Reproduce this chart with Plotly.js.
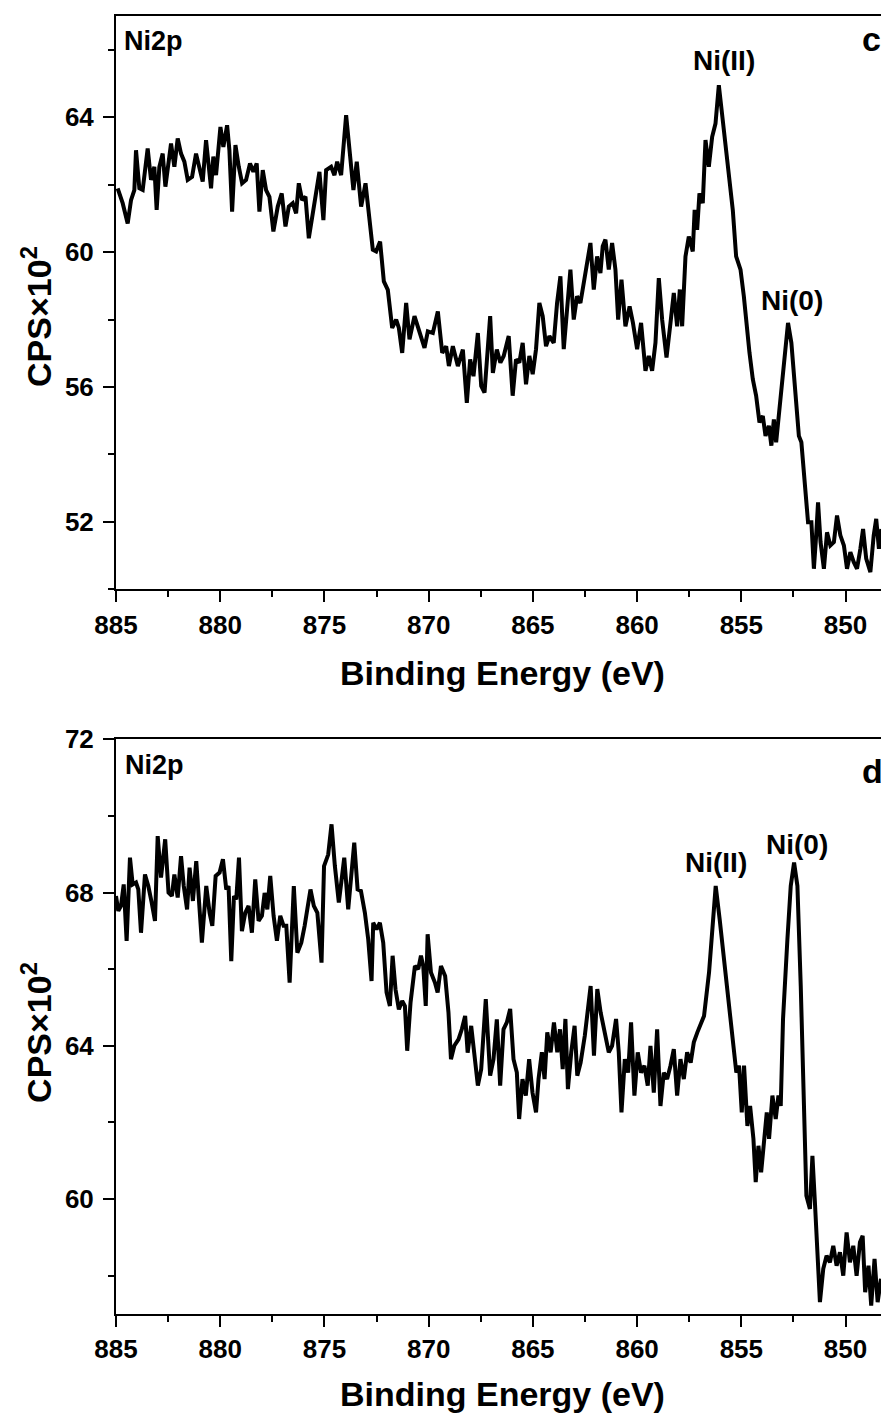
<!DOCTYPE html>
<html>
<head>
<meta charset="utf-8">
<script src="https://cdn.plot.ly/plotly-3.0.1.min.js"></script>
<style>html,body{margin:0;padding:0;background:#fff;}#chart{width:881px;height:1414px;}</style>
</head>
<body>
<div id="chart"></div>
<script>
// ---- Panel c (top): Binding energy (eV) and CPS x10^2 ----
const energyC = [
  884.92, 884.68, 884.44, 884.28, 884.12, 884.04, 883.88, 883.72, 883.48, 883.32,
  883.16, 883.05, 882.92, 882.76, 882.63, 882.47, 882.36, 882.2, 882.04, 881.88,
  881.72, 881.56, 881.35, 881.16, 881.0, 880.84, 880.68, 880.55, 880.44, 880.33,
  880.2, 879.99, 879.85, 879.67, 879.56, 879.43, 879.27, 879.11, 878.95, 878.76,
  878.57, 878.41, 878.25, 878.12, 877.96, 877.8, 877.64, 877.45, 877.24, 877.05,
  876.87, 876.71, 876.52, 876.36, 876.23, 876.07, 875.91, 875.75, 875.56, 875.4,
  875.24, 875.05, 874.92, 874.68, 874.52, 874.39, 874.2, 873.96, 873.8, 873.61,
  873.45, 873.24, 873.03, 872.84, 872.68, 872.52, 872.33, 872.15, 871.96, 871.75,
  871.56, 871.43, 871.27, 871.08, 870.92, 870.68, 870.44, 870.2, 870.04, 869.8,
  869.56, 869.35, 869.16, 869.03, 868.84, 868.6, 868.36, 868.17, 868.01, 867.85,
  867.64, 867.48, 867.32, 867.16, 867.05, 866.92, 866.73,
  866.56, 866.4, 866.16, 865.97, 865.81, 865.65, 865.49, 865.33, 865.17, 865.01,
  864.85, 864.69, 864.53, 864.37, 864.21, 864.0, 863.84, 863.68, 863.52, 863.36,
  863.2, 863.04, 862.88, 862.72, 862.56, 862.4, 862.24, 862.08, 861.92, 861.76,
  861.65, 861.52, 861.36, 861.2, 861.04, 860.91, 860.75, 860.56, 860.36, 860.2,
  860.0, 859.81, 859.6, 859.44, 859.28, 859.12, 858.96, 858.8, 858.59, 858.4,
  858.24, 858.08, 857.95, 857.84, 857.68, 857.52, 857.33, 857.24, 857.12, 857.01,
  856.85, 856.72, 856.56, 856.4, 856.24, 856.08, 855.92, 855.76, 855.6, 855.41,
  855.25, 855.04, 854.88, 854.77, 854.61, 854.45, 854.29, 854.13, 853.97, 853.84,
  853.68, 853.56, 853.44, 853.33, 853.2, 853.08, 852.92, 852.76, 852.6, 852.4,
  852.24, 852.12, 851.96, 851.8, 851.64, 851.52, 851.41, 851.32, 851.2, 851.04,
  850.89, 850.73, 850.56, 850.41, 850.25, 850.08, 849.93, 849.77, 849.61, 849.45,
  849.29, 849.16, 849.01, 848.81, 848.65, 848.53, 848.4, 848.28
];
const cpsC = [
  61.89, 61.45, 60.85, 61.54, 61.84, 63.02, 61.89, 61.84, 63.07, 62.14,
  62.53, 61.25, 62.53, 62.92, 61.94, 62.63, 63.22, 62.53, 63.37, 62.92,
  62.68, 62.14, 62.23, 62.92, 62.53, 62.09, 63.32, 62.53, 61.89, 62.83,
  62.28, 63.71, 63.12, 63.76, 63.02, 61.2, 63.17, 62.53, 62.04, 62.14,
  62.63, 62.38, 62.63, 61.2, 62.43, 61.84, 61.64, 60.61, 61.35, 61.74,
  60.76, 61.35, 61.45, 61.15, 62.04, 61.54, 61.64, 60.41, 61.15, 61.64,
  62.38, 60.95, 62.43, 62.53, 62.28, 62.68, 62.28, 64.06, 63.12, 61.84,
  62.68, 61.35, 62.04, 60.95, 60.07, 60.02, 60.31, 59.13, 58.88, 57.75,
  58.0, 57.75, 57.01, 58.49, 57.41, 58.1, 57.6, 57.16, 57.65, 57.6,
  58.24, 57.01, 57.21, 56.62, 57.21, 56.62, 57.11, 55.53, 56.82, 56.32,
  57.6, 56.03, 55.83, 57.11, 58.1, 56.42, 57.11,
  56.72, 56.92, 57.51, 55.74, 56.82, 56.72, 57.31, 56.08, 56.92, 56.38,
  57.12, 58.49, 58.1, 57.21, 57.51, 57.31, 58.49, 59.28, 57.12, 58.49,
  59.48, 58.0, 58.69, 58.49, 59.08, 59.68, 60.27, 58.89, 59.87, 59.38,
  60.17, 60.37, 59.48, 60.27, 59.48, 58.0, 59.18, 57.8, 58.39, 57.9,
  57.12, 57.9, 56.48, 56.92, 56.48, 57.31, 59.23, 58.0, 56.87, 57.9,
  58.79, 57.8, 58.89, 57.8, 59.87, 60.46, 60.02, 61.25, 60.66, 61.74,
  61.45, 63.32, 62.53, 63.42, 63.81, 64.95, 64.11, 63.03, 62.43, 61.25,
  59.87, 59.48, 58.69, 57.9, 57.02, 56.23, 55.74, 54.95, 55.14, 54.55,
  54.85, 54.26, 55.04, 54.36, 55.24, 55.93, 57.02, 57.9, 57.31, 55.93,
  54.55, 54.36, 53.07, 51.99, 51.99, 50.61, 51.6, 52.58, 51.4, 50.61,
  51.69, 51.3, 51.4, 52.19, 51.6, 51.3, 50.61, 51.1, 50.81, 50.61,
  51.2, 51.79, 50.91, 50.51, 51.6, 52.09, 51.2, 51.79
];

// ---- Panel d (bottom) ----
const energyD = [
  885.0, 884.89, 884.76, 884.63, 884.49, 884.33, 884.2, 884.04, 883.93, 883.8,
  883.61, 883.45, 883.29, 883.13, 883.0, 882.84, 882.64, 882.48, 882.32, 882.2,
  882.04, 881.88, 881.75, 881.59, 881.47, 881.31, 881.15, 881.03, 880.88, 880.67,
  880.51, 880.38, 880.22, 880.03, 879.87, 879.71, 879.6, 879.47, 879.34, 879.23,
  879.1, 878.96, 878.8, 878.64, 878.48, 878.32, 878.16, 878.0, 877.87, 877.74,
  877.6, 877.44, 877.28, 877.12, 876.96, 876.83, 876.67, 876.47, 876.3, 876.11,
  875.95, 875.67, 875.51, 875.34, 875.14, 875.02, 874.82, 874.66, 874.5, 874.31,
  874.05, 873.86, 873.73, 873.57, 873.41, 873.25, 873.06, 872.9, 872.74, 872.66,
  872.5, 872.34, 872.18, 872.02, 871.86, 871.73, 871.59, 871.43, 871.27, 871.14,
  871.03, 870.87, 870.66, 870.5, 870.37, 870.26, 870.14, 870.05, 869.89, 869.7,
  869.57, 869.41, 869.21, 869.05, 868.93, 868.77, 868.57, 868.41, 868.25, 868.13,
  867.96, 867.8, 867.64, 867.48, 867.26, 867.05, 866.89, 866.73, 866.57, 866.41,
  866.25, 866.09, 865.93, 865.77, 865.66, 865.5, 865.34, 865.18, 865.02, 864.85,
  864.73, 864.57, 864.44, 864.31, 864.15, 863.99, 863.83, 863.7, 863.57, 863.44,
  863.32, 863.16, 863.0, 862.87, 862.71, 862.51, 862.35, 862.23, 862.07, 861.91,
  861.75, 861.59, 861.36, 861.2, 861.01, 860.88, 860.75, 860.59, 860.43, 860.29,
  860.13, 859.97, 859.81, 859.65, 859.49, 859.36, 859.2, 859.04, 858.88, 858.72,
  858.56, 858.4, 858.24, 858.08, 857.92, 857.76, 857.6, 857.43, 857.28, 857.11,
  856.79, 856.55, 856.39, 856.23, 856.04, 855.83, 855.59, 855.4, 855.24, 855.11,
  854.98, 854.87, 854.71, 854.58, 854.42, 854.31, 854.18, 854.05, 853.91, 853.78,
  853.67, 853.51, 853.35, 853.22, 853.11, 853.0, 852.79, 852.63, 852.47, 852.31,
  852.15, 851.99, 851.88, 851.71, 851.59, 851.47, 851.35, 851.23, 851.07, 850.91,
  850.75, 850.59, 850.43, 850.27, 850.11, 849.95, 849.79, 849.63, 849.47, 849.31,
  849.18, 849.06, 848.9, 848.77, 848.61, 848.46, 848.3
];
const cpsD = [
  67.91, 67.52, 67.65, 68.21, 66.74, 68.91, 68.21, 68.26, 68.08, 66.95,
  68.47, 68.17, 67.74, 67.26, 69.47, 68.39, 69.39, 68.0, 67.91, 68.47,
  67.87, 68.95, 68.17, 67.56, 68.65, 67.78, 68.82, 67.74, 66.69, 68.17,
  67.47, 67.13, 68.43, 68.52, 68.87, 68.08, 68.17, 66.21, 67.91, 67.82,
  68.91, 66.99, 67.47, 67.65, 66.95, 68.34, 67.26, 67.39, 67.99, 67.56,
  68.43, 67.39, 66.74, 67.39, 67.13, 67.13, 65.65, 68.17, 66.43, 66.69,
  67.13, 68.08, 67.65, 67.47, 66.17, 68.69, 68.99, 69.78, 68.69, 67.74,
  68.91, 67.56, 68.39, 69.3, 68.08, 68.04, 67.47, 66.78, 65.69, 67.21,
  67.04, 67.21, 66.69, 65.39, 65.04, 66.35, 65.47, 64.95, 65.17, 65.04,
  63.87, 65.13, 66.08, 66.0, 66.35, 66.08, 65.04, 66.91, 65.91, 65.65,
  65.39, 66.08, 65.82, 64.87, 63.65, 64.0, 64.17, 64.43, 64.78, 63.82,
  64.52, 63.74, 62.96, 63.39, 65.22, 63.22, 63.65, 64.69, 62.96, 64.43,
  64.61, 64.96, 63.65, 63.3, 62.09, 63.13, 62.7, 63.65, 62.78, 62.26,
  63.13, 63.83, 63.13, 64.35, 63.83, 64.61, 63.83, 64.43, 63.39, 64.7,
  62.87, 63.83, 64.52, 63.22, 63.56, 64.26, 65.04, 65.56, 63.74, 65.48,
  64.87, 64.43, 63.83, 64.0, 64.7, 63.83, 62.26, 63.65, 63.3, 64.61,
  62.7, 63.83, 63.3, 63.48, 62.96, 64.0, 62.78, 64.43, 62.43, 63.3,
  63.13, 63.48, 63.91, 62.7, 63.65, 63.13, 63.83, 63.56, 64.09, 64.35,
  64.78, 65.91, 67.13, 68.17, 67.3, 66.26, 65.04, 64.0, 63.3, 63.48,
  62.26, 63.48, 61.91, 62.43, 61.57, 60.44, 61.39, 60.7, 61.65, 62.26,
  61.57, 62.7, 62.09, 62.7, 62.43, 64.7, 66.78, 68.17, 68.78, 68.17,
  65.56, 62.09, 60.09, 59.74, 61.13, 59.91, 58.7, 57.31, 58.18, 58.52,
  58.35, 58.78, 58.26, 58.61, 58.0, 59.13, 58.35, 58.78, 58.0, 58.87,
  59.04, 57.57, 58.26, 57.22, 58.44, 57.31, 57.92
];

const xTickVals = [885, 880, 875, 870, 865, 860, 855, 850];
const yTickValsC = [52, 56, 60, 64];
const yTickValsD = [60, 64, 68, 72];

const FONT = 'Liberation Sans, Arial, Helvetica, sans-serif';
const lineStyle = {color: '#000', width: 4};

const traces = [
  {x: energyC, y: cpsC, type: 'scatter', mode: 'lines', line: lineStyle, xaxis: 'x', yaxis: 'y', hoverinfo: 'skip'},
  {x: energyD, y: cpsD, type: 'scatter', mode: 'lines', line: lineStyle, xaxis: 'x2', yaxis: 'y2', hoverinfo: 'skip'}
];

function xAxis(anchor) {
  return {
    anchor: anchor, domain: [0, 1], range: [885, 848.3],
    tickmode: 'array', tickvals: xTickVals, ticktext: xTickVals.map(String),
    ticks: 'outside', ticklen: 11, tickwidth: 2, tickcolor: '#000',
    minor: {ticks: 'outside', ticklen: 6, tickwidth: 2, tickcolor: '#000', dtick: 2.5, tick0: 850, showgrid: false},
    showline: true, linewidth: 2, linecolor: '#000', mirror: true,
    showgrid: false, zeroline: false,
    tickfont: {family: FONT, size: 26, color: '#000', weight: 'bold'}
  };
}
function yAxis(anchor, domain, range, vals) {
  return {
    anchor: anchor, domain: domain, range: range,
    tickmode: 'array', tickvals: vals, ticktext: vals.map(String),
    ticks: 'outside', ticklen: 11, tickwidth: 2, tickcolor: '#000',
    minor: {ticks: 'outside', ticklen: 6, tickwidth: 2, tickcolor: '#000', dtick: 2, tick0: vals[0], showgrid: false},
    showline: true, linewidth: 2, linecolor: '#000', mirror: false,
    showgrid: false, zeroline: false,
    tickfont: {family: FONT, size: 26, color: '#000', weight: 'bold'},
    ticklabelstandoff: 4
  };
}

function ann(text, x, y, size, xanchor, extra) {
  return Object.assign({
    text: text, x: x, y: y, xref: 'paper', yref: 'paper',
    xanchor: xanchor, yanchor: 'middle', showarrow: false,
    font: {family: FONT, size: size, color: '#000', weight: 'bold'}
  }, extra || {});
}

const annotations = [
  ann('Ni2p', 0.0082, 0.9807, 27, 'left'),
  ann('c', 0.9725, 0.9823, 34, 'left'),
  ann('Ni(II)', 0.7948, 0.9655, 28, 'center'),
  ann('Ni(0)', 0.8837, 0.7806, 28, 'center'),
  ann('Binding Energy (eV)', 0.5046, 0.4941, 34, 'center'),
  ann('CPS×10<sup>2</sup>', -0.1033, 0.7689, 34, 'center', {textangle: -90}),

  ann('Ni2p', 0.0086, 0.4233, 27, 'left'),
  ann('d', 0.9725, 0.4183, 34, 'left'),
  ann('Ni(II)', 0.7837, 0.3478, 28, 'center'),
  ann('Ni(0)', 0.8898, 0.3619, 28, 'center'),
  ann('Binding Energy (eV)', 0.5046, -0.0619, 34, 'center'),
  ann('CPS×10<sup>2</sup>', -0.1033, 0.2173, 34, 'center', {textangle: -90})
];

const layout = {
  width: 881, height: 1414,
  margin: {l: 116, r: 0, t: 16, b: 100},
  paper_bgcolor: '#fff', plot_bgcolor: '#fff',
  showlegend: false,
  xaxis: xAxis('y'),
  yaxis: yAxis('x', [0.5583, 1], [50, 67], yTickValsC),
  xaxis2: xAxis('y2'),
  yaxis2: yAxis('x2', [0, 0.4428], [57, 72], yTickValsD),
  annotations: annotations
};

Plotly.newPlot('chart', traces, layout, {displayModeBar: false, staticPlot: true});
</script>
</body>
</html>
